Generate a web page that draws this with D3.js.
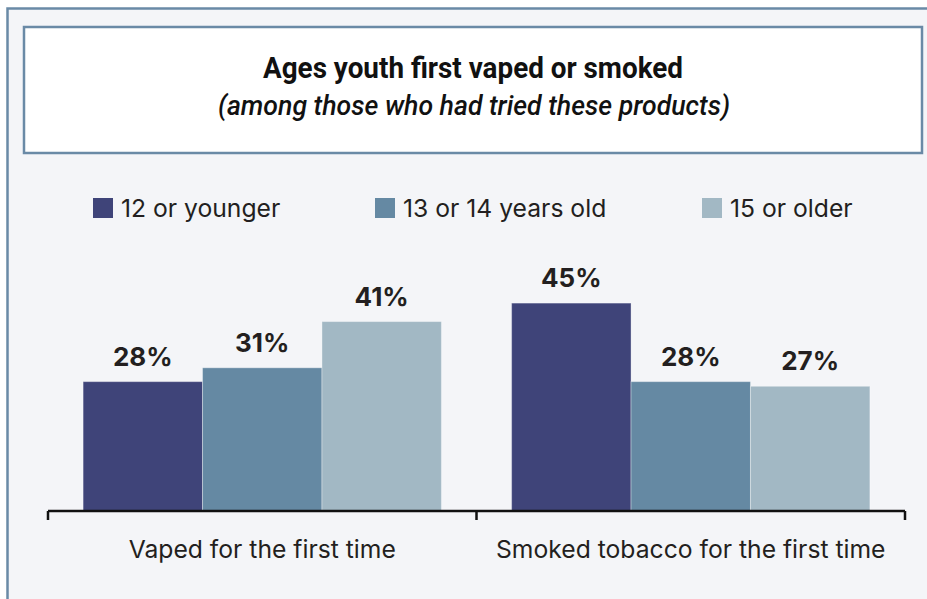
<!DOCTYPE html>
<html>
<head>
<meta charset="utf-8">
<script src="https://cdn.jsdelivr.net/npm/d3@7"></script>
<style>
  html, body { margin: 0; padding: 0; background: #ffffff; }
  svg { display: block; }
</style>
</head>
<body>
<svg id="chart" width="927" height="599"></svg>
<script>
// Chart data
const categories = ["Vaped for the first time", "Smoked tobacco for the first time"];
const ageGroups = ["12 or younger", "13 or 14 years old", "15 or older"];
const youngest = [28, 45];
const middle = [31, 28];
const oldest = [41, 27];
const seriesValues = [youngest, middle, oldest];
const colors = ["#3f4479", "#6589a3", "#a2b8c4"];

const title = "Ages youth first vaped or smoked";
const subtitle = "(among those who had tried these products)";

const svg = d3.select("#chart");
const W = 927, H = 599;

// Outer panel
svg.append("rect")
  .attr("x", 7.5).attr("y", 8.5)
  .attr("width", W + 20).attr("height", H + 20)
  .attr("fill", "#f4f5f8")
  .attr("stroke", "#6a8aa6").attr("stroke-width", 2.5);

// Title box
svg.append("rect")
  .attr("x", 24).attr("y", 27)
  .attr("width", 898).attr("height", 126)
  .attr("fill", "#ffffff")
  .attr("stroke", "#6a8aa6").attr("stroke-width", 2.5);

// Condensed heading: Roboto squeezed to a narrow set width
const headFont = "Roboto, 'Liberation Sans', sans-serif";
svg.append("text")
  .attr("x", 473).attr("y", 78)
  .attr("text-anchor", "middle")
  .attr("font-family", headFont)
  .attr("font-weight", "bold")
  .attr("font-size", 30)
  .attr("fill", "#111")
  .attr("textLength", 420)
  .attr("lengthAdjust", "spacingAndGlyphs")
  .text(title);
svg.append("text")
  .attr("x", 474).attr("y", 115)
  .attr("text-anchor", "middle")
  .attr("font-family", headFont)
  .attr("font-style", "italic")
  .attr("font-weight", "500")
  .attr("font-size", 28)
  .attr("fill", "#111")
  .attr("textLength", 512)
  .attr("lengthAdjust", "spacingAndGlyphs")
  .text(subtitle);

const bodyFont = "Inter, 'Noto Sans', sans-serif";

// Legend
const legendX = [93, 375, 702];
const legend = svg.append("g");
ageGroups.forEach((g, i) => {
  legend.append("rect")
    .attr("x", legendX[i]).attr("y", 198)
    .attr("width", 20).attr("height", 20)
    .attr("fill", colors[i]);
  legend.append("text")
    .attr("x", legendX[i] + 28).attr("y", 217)
    .attr("font-family", bodyFont)
    .attr("font-size", 24.7)
    .attr("fill", "#231f20")
    .text(g);
});

// Scales
const x0 = d3.scaleBand().domain(categories).range([48, 905]).paddingInner(0).paddingOuter(0);
const x1 = d3.scaleBand().domain(ageGroups).range([0, x0.bandwidth()]).paddingInner(0).paddingOuter(0.294);
const y = d3.scaleLinear().domain([0, 50]).range([511, 280]);

const rows = categories.map((c, ci) => ({
  category: c,
  values: ageGroups.map((g, gi) => ({ group: g, gi, value: seriesValues[gi][ci] }))
}));

const groups = svg.append("g").selectAll("g")
  .data(rows).join("g")
  .attr("transform", d => `translate(${x0(d.category)},0)`);

groups.selectAll("rect")
  .data(d => d.values).join("rect")
  .attr("x", d => x1(d.group))
  .attr("y", d => y(d.value))
  .attr("width", x1.bandwidth())
  .attr("height", d => y(0) - y(d.value))
  .attr("fill", d => colors[d.gi])
  .attr("stroke", "rgba(255,255,255,0.35)")
  .attr("stroke-width", 1);

groups.selectAll("text.val")
  .data(d => d.values).join("text")
  .attr("class", "val")
  .attr("x", d => x1(d.group) + x1.bandwidth() / 2)
  .attr("y", d => y(d.value) - 16)
  .attr("text-anchor", "middle")
  .attr("font-family", bodyFont)
  .attr("font-weight", "bold")
  .attr("font-size", 26)
  .attr("fill", "#231f20")
  .text(d => d.value + "%");

// Category axis with group separators
const axis = svg.append("g").attr("transform", "translate(0,511)");
axis.append("line")
  .attr("x1", 48).attr("x2", 905)
  .attr("stroke", "#111").attr("stroke-width", 2.5);
const tickXs = categories.map(c => x0(c)).concat([x0(categories[categories.length - 1]) + x0.bandwidth()]);
axis.selectAll("line.tick")
  .data(tickXs).join("line")
  .attr("class", "tick")
  .attr("x1", d => d).attr("x2", d => d)
  .attr("y1", 0).attr("y2", 9)
  .attr("stroke", "#111").attr("stroke-width", 2.5);
axis.selectAll("text")
  .data(categories).join("text")
  .attr("x", d => x0(d) + x0.bandwidth() / 2)
  .attr("y", 47)
  .attr("text-anchor", "middle")
  .attr("font-family", bodyFont)
  .attr("font-size", 24.7)
  .attr("fill", "#231f20")
  .text(d => d);
</script>
</body>
</html>
